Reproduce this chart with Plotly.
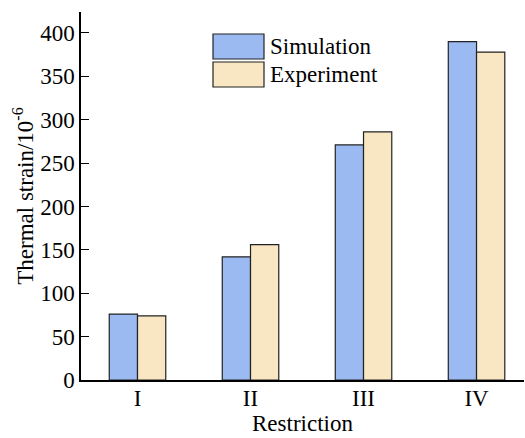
import plotly.graph_objects as go

categories = ["I", "II", "III", "IV"]
simulation = [76, 142, 271, 390]
experiment = [74, 156, 286, 378]

FONT = "Liberation Serif"
W, H = 525, 438
L, R, T, B = 81, 1, 12, 58

fig = go.Figure()
fig.add_trace(go.Bar(x=categories, y=simulation, name="Simulation",
                     marker=dict(color="#9CBAF2", line=dict(color="#222222", width=1.2)),
                     showlegend=False))
fig.add_trace(go.Bar(x=categories, y=experiment, name="Experiment",
                     marker=dict(color="#F9E6C3", line=dict(color="#222222", width=1.2)),
                     showlegend=False))

def px2paper_x(px):
    return (px - L) / (W - L - R)

def px2paper_y(py):
    return (H - B - py) / (H - T - B)

# legend drawn manually
legend_items = [("Simulation", "#9CBAF2", 34, 59), ("Experiment", "#F9E6C3", 62, 87)]
for label, col, y0, y1 in legend_items:
    fig.add_shape(type="rect", xref="paper", yref="paper",
                  x0=px2paper_x(213), x1=px2paper_x(264),
                  y0=px2paper_y(y1), y1=px2paper_y(y0),
                  fillcolor=col, line=dict(color="#222222", width=1.2))
    fig.add_annotation(xref="paper", yref="paper", x=px2paper_x(268),
                       y=px2paper_y((y0 + y1) / 2), text=label, showarrow=False,
                       xanchor="left", yanchor="middle",
                       font=dict(family=FONT, size=23, color="black"))

fig.update_layout(
    width=W, height=H,
    margin=dict(l=L, r=R, t=T, b=B),
    plot_bgcolor="white", paper_bgcolor="white",
    barmode="group", bargap=0.5, bargroupgap=0,
    font=dict(family=FONT, size=23, color="black"),
    xaxis=dict(range=[-0.5, 3.42], showline=True, linecolor="black", linewidth=1.5,
               ticks="", showgrid=False, zeroline=False, ticklabelstandoff=-3,
               title=dict(text="Restriction", font=dict(family=FONT, size=23), standoff=0),
               tickfont=dict(family=FONT, size=23)),
    yaxis=dict(range=[0, 424.2], showline=True, linecolor="black", linewidth=1.5,
               ticks="inside", ticklen=8, tickwidth=1.3, tickcolor="black",
               tickvals=[0, 50, 100, 150, 200, 250, 300, 350, 400],
               showgrid=False, zeroline=False,
               title=dict(text="Thermal strain/10<sup>-6</sup>", font=dict(family=FONT, size=23), standoff=0),
               tickfont=dict(family=FONT, size=23)),
)

fig.write_html("out.html")
